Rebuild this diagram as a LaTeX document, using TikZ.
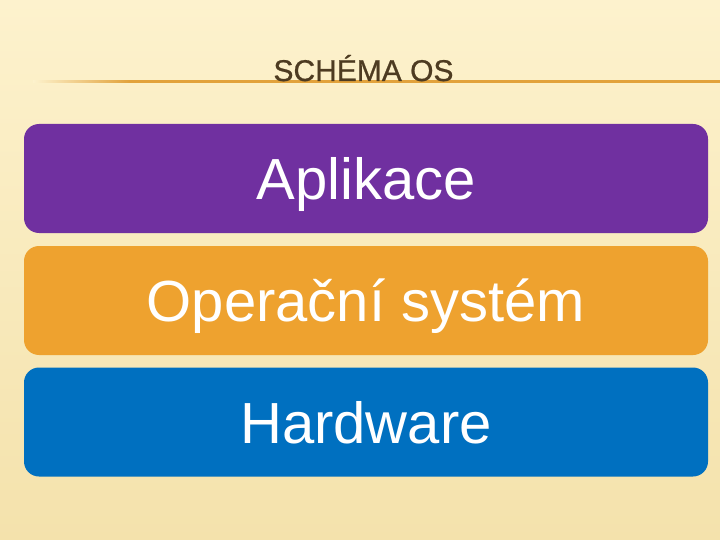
\documentclass[tikz,border=0pt]{standalone}
\usepackage{fontspec}
\setmainfont{Liberation Sans}
\newfontfamily\titlefont[FakeBold=0.8]{Liberation Sans}
\definecolor{bgtop}{HTML}{FDF2CD}
\definecolor{bgbot}{HTML}{F4E2AC}
\definecolor{titlecol}{HTML}{4D3B21}
\definecolor{rulecol}{HTML}{E2A23C}
\definecolor{appcol}{HTML}{7030A0}
\definecolor{oscol}{HTML}{EEA22F}
\definecolor{hwcol}{HTML}{0070C0}
\pgfdeclarehorizontalshading{rulefade}{100bp}{color(0bp)=(bgtop); color(25bp)=(bgtop); color(32bp)=(rulecol); color(100bp)=(rulecol)}
\tikzset{
  layerbox/.style={rounded corners=15pt, inner sep=0pt, minimum width=684pt, minimum height=109pt,
    text=white, font=\fontsize{58}{60}\selectfont, text height=42pt, text depth=0pt},
  titletext/.style={anchor=base, text=titlecol, font=\titlefont\fontsize{30}{32}\selectfont, inner sep=0pt}
}
\begin{document}
\begin{tikzpicture}[x=1pt,y=-1pt]
\useasboundingbox (0,0) rectangle (720,540);
\shade[top color=bgtop, bottom color=bgbot] (0,0) rectangle (720,540);
% title rule
\shade[shading=rulefade] (33,81) rectangle (720,83);
\node[titletext] (title) at (363.5,81) {SCHÉMA OS};
% layers
\node[layerbox, fill=appcol] (app) at (366,178.5) {Aplikace};
\node[layerbox, fill=oscol] (os) at (366,300.5) {Operační systém};
\node[layerbox, fill=hwcol] (hw) at (366,422) {Hardware};
\end{tikzpicture}
\end{document}
